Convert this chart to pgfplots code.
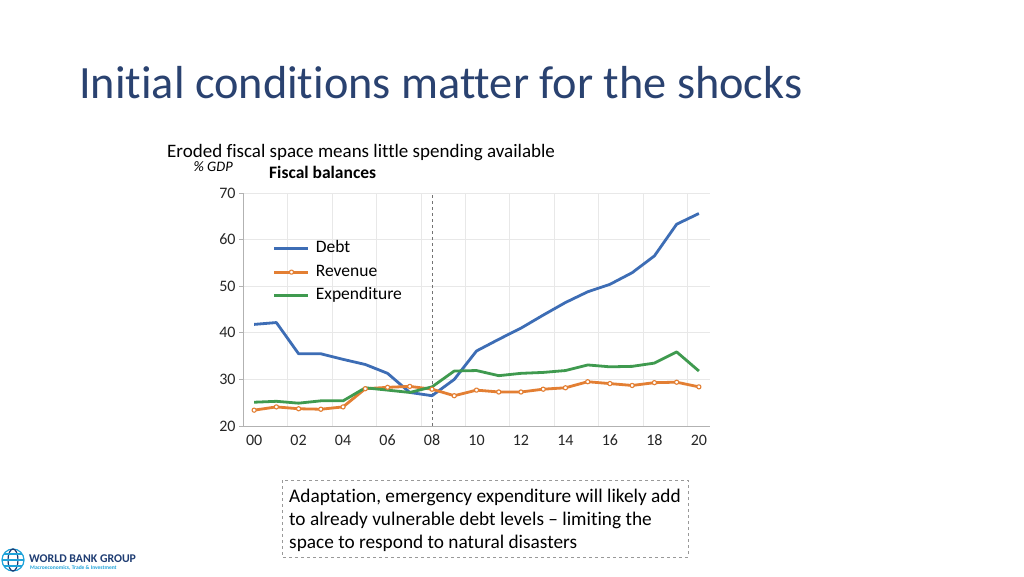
\documentclass[border=0pt]{standalone}
\usepackage{pgfplots}
\pgfplotsset{compat=1.18}
\usepackage{fontspec}
\setmainfont{Carlito}[Ligatures={NoCommon}]
\definecolor{titleblue}{HTML}{2A4270}
\definecolor{debtc}{HTML}{3D6DB5}
\definecolor{revc}{HTML}{E37F33}
\definecolor{expc}{HTML}{3F9A4F}
\definecolor{navy}{HTML}{1F3D73}
\definecolor{wbcyan}{HTML}{1FA3DA}
\pgfplotstableread{
yr debt rev exp
0 41.8 23.4 25.1
1 42.2 24.1 25.3
2 35.5 23.7 24.9
3 35.5 23.6 25.4
4 34.3 24.1 25.4
5 33.2 28.0 28.2
6 31.3 28.3 27.7
7 27.2 28.5 27.2
8 26.5 27.9 28.4
9 30.0 26.5 31.8
10 36.1 27.7 31.9
11 38.6 27.3 30.8
12 41.0 27.3 31.3
13 43.8 27.9 31.5
14 46.5 28.2 31.9
15 48.8 29.5 33.1
16 50.4 29.1 32.7
17 52.9 28.7 32.8
18 56.5 29.3 33.5
19 63.3 29.4 35.9
20 65.6 28.4 31.8
}\fiscal
\begin{document}
\begin{tikzpicture}[x=1pt,y=1pt]
\path[fill=white] (0,0) rectangle (1024,576);
% title
\node[anchor=base west, inner sep=0pt, text=titleblue, font=\fontsize{46.3}{50}\selectfont] at (79,477) {Initial conditions matter for the shocks};
% chart titles
\node[anchor=base west, inner sep=0pt, font=\fontsize{19}{22}\selectfont] at (167,418) {Eroded fiscal space means little spending available};
\node[anchor=base east, inner sep=0pt, font=\itshape\fontsize{14.5}{16}\selectfont] at (233,404) {\% GDP};
\node[anchor=base west, inner sep=0pt, font=\bfseries\fontsize{17.5}{20}\selectfont] at (269,397) {Fiscal balances};
\begin{axis}[
  at={(243pt,150pt)}, anchor=south west,
  scale only axis, width=467pt, height=233pt,
  xmin=-0.5, xmax=20.5, ymin=20, ymax=70,
  xtick={0,2,4,6,8,10,12,14,16,18,20},
  xticklabels={00,02,04,06,08,10,12,14,16,18,20},
  minor xtick={-0.5,1.5,3.5,5.5,7.5,9.5,11.5,13.5,15.5,17.5,19.5},
  ytick={20,30,40,50,60,70},
  ymajorgrids, xminorgrids,
  major grid style={draw=black!9, line width=0.8pt},
  minor grid style={draw=black!9, line width=0.8pt},
  axis x line*=bottom, axis y line*=left,
  axis line style={draw=black!30, line width=0.8pt, -},
  x tick style={draw=none},
  minor x tick style={draw=none},
  y tick style={draw=black!30, line width=0.8pt},
  tick align=outside, major tick length=4pt,
  ticklabel style={font=\fontsize{16}{18}\selectfont, text=black!85},
  /pgf/number format/assume math mode=true,
  xticklabel style={anchor=north, text height=11pt, text depth=0pt, yshift=-1pt},
  legend style={draw=none, fill=none, at={(0.064,0.805)}, anchor=north west,
    font=\fontsize{17.5}{20}\selectfont, row sep=3.5pt, inner sep=0pt,
    nodes={inner sep=2pt, text height=12pt, text depth=4pt},
    /tikz/every odd column/.append style={column sep=4pt}},
  legend cell align=left,
  legend image code/.code={\draw[mark repeat=2,mark phase=2,#1] plot coordinates {(0pt,0pt) (17pt,0pt) (34pt,0pt)};},
]
\addplot[draw=black!55, dashed, line width=0.7pt, forget plot] coordinates {(8,20) (8,70)};
\addplot[debtc, line width=2.8pt, line join=round] table[x=yr, y=debt] {\fiscal};
\addlegendentry{Debt}
\addplot[revc, line width=2.8pt, line join=round, mark=*, mark size=2.1pt, mark options={fill=white, draw=revc, line width=1.1pt}] table[x=yr, y=rev] {\fiscal};
\addlegendentry{Revenue}
\addplot[expc, line width=2.8pt, line join=round] table[x=yr, y=exp] {\fiscal};
\addlegendentry{Expenditure}
\end{axis}
% text box
\draw[black!40, dashed, line width=0.7pt] (282,96) rectangle (688,19);
\begin{scope}[every node/.style={anchor=base west, inner sep=0pt, font=\fontsize{19.3}{23}\selectfont}]
\node at (289,74) {Adaptation, emergency expenditure will likely add};
\node at (289,51) {to already vulnerable debt levels -- limiting the};
\node at (289,28) {space to respond to natural disasters};
\end{scope}
% logo
\begin{scope}[line width=1.2pt]
\draw[wbcyan] (13,16) circle (11);
\draw[navy] (13,16) ellipse (5 and 11);
\draw[wbcyan] (2,16) -- (24,16);
\draw[wbcyan] (4,22) -- (22,22);
\draw[wbcyan] (4,10) -- (22,10);
\end{scope}
\node[anchor=base west, inner sep=0pt, text=navy, font=\bfseries\fontsize{11.8}{13}\selectfont] at (29,14) {WORLD BANK GROUP};
\node[anchor=base west, inner sep=0pt, text=wbcyan, font=\bfseries\fontsize{5.5}{6}\selectfont] at (30,6.5) {Macroeconomics, Trade \& Investment};
\end{tikzpicture}
\end{document}
